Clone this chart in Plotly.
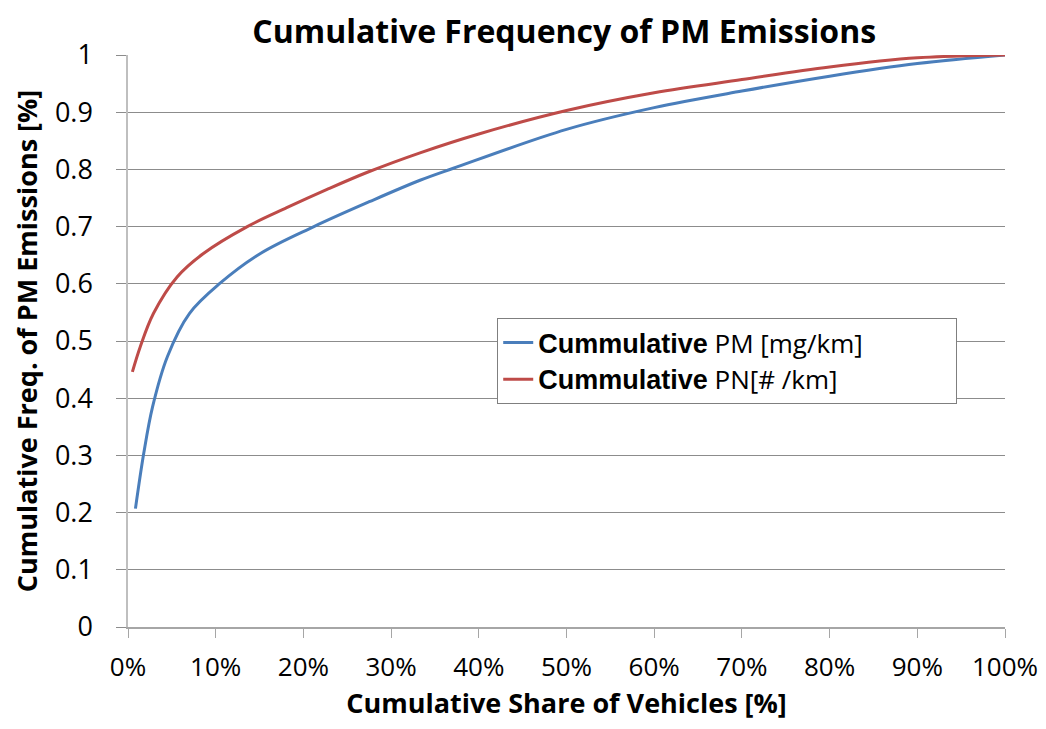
import plotly.graph_objects as go

# Cumulative share of vehicles (fraction) and cumulative frequency of emissions
pm_share = [0.0085, 0.018, 0.028, 0.045, 0.07, 0.105, 0.151, 0.212, 0.276,
            0.333, 0.371, 0.5, 0.6, 0.7, 0.8, 0.9, 1.0]
pm_freq = [0.207, 0.304, 0.385, 0.473, 0.548, 0.601, 0.653, 0.70, 0.744,
           0.781, 0.802, 0.870, 0.908, 0.937, 0.963, 0.985, 1.0]

pn_share = [0.005, 0.014, 0.029, 0.056, 0.086, 0.136, 0.181, 0.227, 0.273,
            0.333, 0.4, 0.5, 0.6, 0.7, 0.8, 0.9, 1.0]
pn_freq = [0.446, 0.49, 0.548, 0.612, 0.653, 0.70, 0.733, 0.765, 0.795,
           0.829, 0.862, 0.903, 0.934, 0.957, 0.979, 0.995, 1.0]

pad = "&nbsp;" * 13
bold_part = "<span style='font-family:Liberation Sans;font-size:27px'><b>Cummulative</b></span>"

fig = go.Figure()
fig.add_trace(go.Scatter(x=pm_share, y=pm_freq, mode="lines", line_shape="spline",
                         name=bold_part + " PM [mg/km]" + pad,
                         line=dict(color="#4a7ebb", width=3)))
fig.add_trace(go.Scatter(x=pn_share, y=pn_freq, mode="lines", line_shape="spline",
                         name=bold_part + " PN[# /km]" + pad,
                         line=dict(color="#be4b48", width=3)))

fig.update_layout(
    width=1030, height=713,
    margin=dict(l=120, r=33, t=47, b=94),
    paper_bgcolor="white", plot_bgcolor="white",
    font=dict(family="Open Sans, sans-serif", size=24, color="black"),
    title=dict(text="<b>Cumulative Frequency of PM Emissions</b>",
               x=0.54, xanchor="center", y=0.967, yanchor="middle",
               font=dict(size=32)),
    legend=dict(x=0.421, y=0.54, xanchor="left", yanchor="top",
                bordercolor="#7f7f7f", borderwidth=1, bgcolor="white",
                font=dict(size=26), tracegroupgap=0),
)
fig.update_xaxes(range=[0, 1], dtick=0.1, tickformat=".0%",
                 showline=True, linecolor="#a6a6a6", linewidth=1.5,
                 ticks="outside", ticklen=9, tickcolor="#a6a6a6",
                 ticklabelstandoff=7, tickfont=dict(size=26),
                 ticklabeloverflow="allow",
                 showgrid=False, zeroline=False, automargin=False,
                 title=dict(text="<b>Cumulative Share of Vehicles [%]</b>",
                            font=dict(size=27), standoff=12))
fig.update_yaxes(range=[0, 1], dtick=0.1,
                 showline=True, linecolor="#bfbfbf", linewidth=1.5,
                 ticks="outside", ticklen=10, tickcolor="#8c8c8c",
                 ticklabelstandoff=18, tickfont=dict(size=27),
                 showgrid=True, gridcolor="#8c8c8c", gridwidth=1, zeroline=False,
                 automargin=False,
                 title=dict(text="<b>Cumulative Freq. of PM Emissions [%]</b>",
                            font=dict(size=27), standoff=16))

fig.write_html("out.html")
